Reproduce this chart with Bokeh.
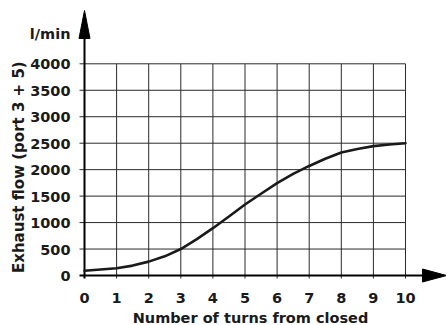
import math
from bokeh.plotting import figure
from bokeh.models import Range1d
from bokeh.core.properties import value
from bokeh.embed import file_html
from bokeh.resources import INLINE

# ---- data ----
turns = [0, 0.5, 1, 1.5, 2, 2.5, 3, 3.5, 4, 4.5, 5, 5.5, 6, 6.5, 7, 7.5, 8, 8.5, 9, 9.5, 10]
flow = [90, 112, 137, 187, 262, 362, 500, 686, 894, 1115, 1341, 1545, 1745, 1920,
        2070, 2206, 2325, 2390, 2444, 2475, 2500]
x_ticks = [0, 1, 2, 3, 4, 5, 6, 7, 8, 9, 10]
y_ticks = [0, 500, 1000, 1500, 2000, 2500, 3000, 3500, 4000]
x_title = "Number of turns from closed"
y_title = "Exhaust flow (port 3 + 5)"
unit_label = "l/min"

# ---- layout (pixels) ----
W, H = 446, 325
PX_X = 32.1        # px per turn
PX_Y = 0.052925    # px per l/min
ORIGIN_X, ORIGIN_Y = 84, 275   # pixel position of (0, 0)

x_start = -ORIGIN_X / PX_X
x_end = (W - ORIGIN_X) / PX_X
y_start = -(H - ORIGIN_Y) / PX_Y
y_end = ORIGIN_Y / PX_Y

def dx(px):
    return px / PX_X

def dy(px):
    return px / PX_Y

FONT = value("DejaVu Sans")
FS = value("14.5px")
INK = "#1a1a1a"
GRID = "#2a2a2a"
SHIFT = -5  # baseline correction

p = figure(width=W, height=H, output_backend="svg", toolbar_location=None,
           x_range=Range1d(x_start, x_end), y_range=Range1d(y_start, y_end),
           min_border=0, min_border_left=0, min_border_right=0,
           min_border_top=0, min_border_bottom=0)
p.outline_line_color = None
p.xaxis.visible = False
p.yaxis.visible = False
p.xgrid.visible = False
p.ygrid.visible = False

top = y_ticks[-1]
right = x_ticks[-1]

# grid (with short ticks outside the axes)
vx = x_ticks[1:]
p.segment(x0=vx, y0=[dy(-3)] * len(vx), x1=vx, y1=[top] * len(vx),
          line_color=GRID, line_width=1)
hy = y_ticks[1:]
p.segment(x0=[dx(-5)] * len(hy), y0=hy, x1=[right] * len(hy), y1=hy,
          line_color=GRID, line_width=1)

# axis lines with arrow heads
y_tip = dy(ORIGIN_Y - 10)
y_base = dy(ORIGIN_Y - 38)
x_tip = x_end
x_base = dx(422 - ORIGIN_X)
p.segment(x0=[0, dx(-5)], y0=[dy(-3), 0], x1=[0, x_base], y1=[y_base, 0],
          line_color="black", line_width=2)
p.patches(xs=[[dx(-5.5), 0, dx(5.5)], [x_base, x_tip, x_base]],
          ys=[[y_base, y_tip, y_base], [dy(-6.5), 0, dy(6.5)]],
          fill_color="black", line_color="black", line_width=1)

# curve
p.line(turns, flow, line_color=INK, line_width=2.6, line_join="round", line_cap="round")

# tick labels
p.text(x=x_ticks, y=[0] * len(x_ticks), text=[str(v) for v in x_ticks],
       x_offset=0, y_offset=27.5 + SHIFT, text_align="center", text_baseline="alphabetic",
       text_font=FONT, text_font_style="bold", text_font_size=FS, text_color=INK)
p.text(x=[0] * len(y_ticks), y=y_ticks, text=[str(v) for v in y_ticks],
       x_offset=-14, y_offset=5.5 + SHIFT, text_align="right", text_baseline="alphabetic",
       text_font=FONT, text_font_style="bold", text_font_size=FS, text_color=INK)

# unit label, axis titles
p.text(x=[0], y=[top], text=[unit_label], x_offset=-14, y_offset=-25 + SHIFT,
       text_align="right", text_baseline="alphabetic",
       text_font=FONT, text_font_style="bold", text_font_size=FS, text_color=INK)
p.text(x=[x_ticks[len(x_ticks) // 2]], y=[0], text=[x_title], x_offset=5.5,
       y_offset=47.5 + SHIFT,
       text_align="center", text_baseline="alphabetic",
       text_font=FONT, text_font_style="bold", text_font_size=FS, text_color=INK)
p.text(x=[0], y=[y_ticks[len(y_ticks) // 2]], text=[y_title], x_offset=-65.5, y_offset=-2.5,
       angle=math.pi / 2, text_align="center", text_baseline="middle",
       text_font=FONT, text_font_style="bold", text_font_size=value("15px"), text_color=INK)

open("out.html", "w").write(file_html(p, INLINE))
